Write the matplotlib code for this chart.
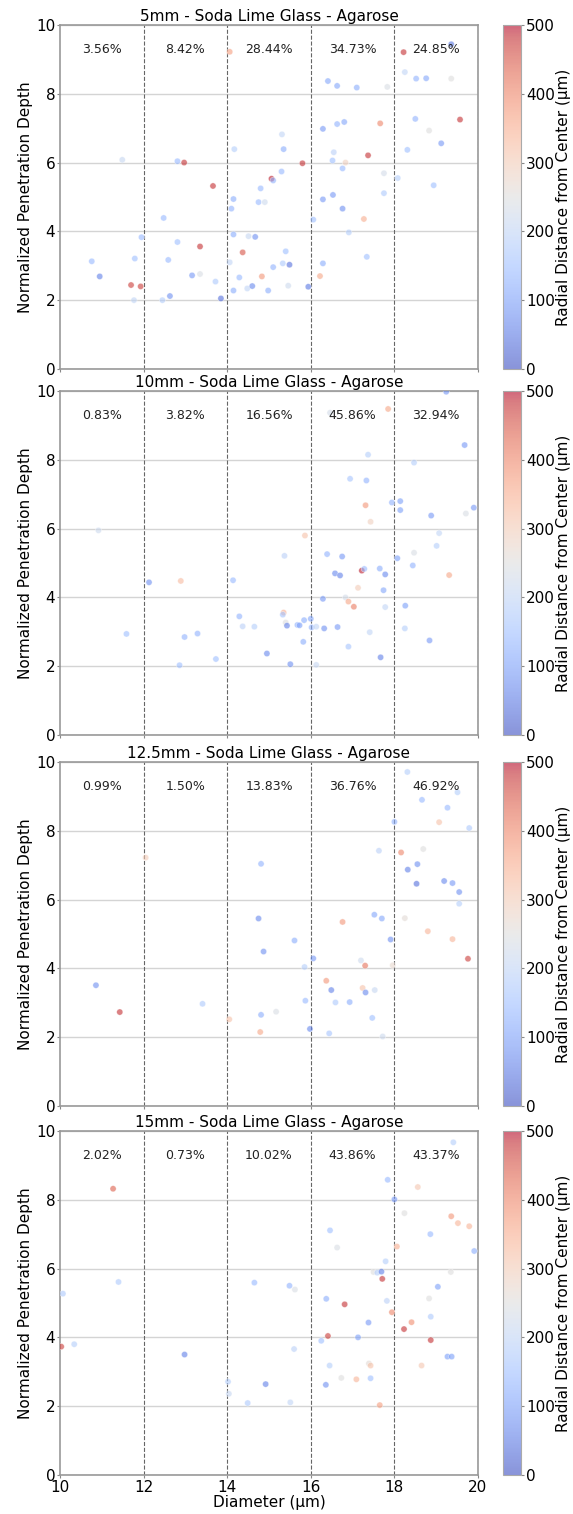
import numpy as np
import matplotlib
matplotlib.use("Agg")
import matplotlib.pyplot as plt

# panel titles and per-bin percentages
titles = ["5mm - Soda Lime Glass - Agarose", "10mm - Soda Lime Glass - Agarose",
          "12.5mm - Soda Lime Glass - Agarose", "15mm - Soda Lime Glass - Agarose"]
bin_edges = [12, 14, 16, 18, 20]
bin_centers = [11, 13, 15, 17, 19]
pct_5 = [3.56, 8.42, 28.44, 34.73, 24.85]
pct_10 = [0.83, 3.82, 16.56, 45.86, 32.94]
pct_125 = [0.99, 1.50, 13.83, 36.76, 46.92]
pct_15 = [2.02, 0.73, 10.02, 43.86, 43.37]

# diameter, normalized depth, radial distance (um)
d_5 = [10.76, 10.95, 11.49, 11.70, 11.79, 11.77, 11.93, 11.95, 12.48, 12.45, 12.59, 12.63,
       12.81, 12.81, 12.97, 13.16, 13.35, 13.35, 13.66, 13.72, 13.85, 14.06, 14.06, 14.10,
       14.15, 14.17, 14.15, 14.15, 14.29, 14.37, 14.48, 14.51, 14.60, 14.67, 14.75, 14.80,
       14.83, 14.90, 14.98, 15.06, 15.10, 15.10, 15.31, 15.30, 15.35, 15.40, 15.33, 15.49,
       15.46, 15.80, 15.94, 16.06, 16.22, 16.29, 16.29, 16.29, 16.41, 16.53, 16.52, 16.55,
       16.63, 16.63, 16.76, 16.76, 16.80, 16.83, 16.91, 17.10, 17.27, 17.34, 17.37, 17.66,
       17.75, 17.75, 17.83, 18.08, 18.22, 18.25, 18.31, 18.50, 18.52, 18.76, 18.83, 18.94,
       19.12, 19.36, 19.36, 19.57]
p_5 = [3.13, 2.69, 6.08, 2.44, 3.21, 2.00, 2.40, 3.83, 4.39, 2.00, 3.17, 2.12,
       6.04, 3.69, 6.00, 2.72, 2.76, 3.56, 5.32, 2.54, 2.05, 9.22, 3.10, 4.66,
       4.94, 6.39, 3.91, 2.28, 2.66, 3.39, 2.34, 3.86, 2.41, 3.84, 4.85, 5.25,
       2.69, 4.85, 2.28, 5.53, 5.48, 2.96, 6.82, 5.74, 6.39, 3.42, 3.07, 3.03,
       2.42, 5.98, 2.39, 4.34, 2.70, 4.93, 6.98, 3.07, 8.37, 5.06, 6.06, 6.30,
       7.12, 8.23, 4.66, 5.83, 7.18, 6.00, 3.97, 8.18, 4.36, 3.26, 6.21, 7.14,
       5.11, 5.69, 8.20, 5.55, 9.21, 8.63, 6.37, 7.27, 8.44, 8.45, 6.93, 5.34,
       6.56, 8.44, 9.44, 7.25]
r_5 = [140, 60, 210, 470, 150, 200, 470, 140, 140, 180, 140, 80,
       140, 150, 480, 90, 240, 480, 480, 170, 40, 370, 200, 130,
       120, 180, 120, 120, 140, 450, 200, 210, 70, 80, 140, 140,
       380, 220, 120, 490, 130, 130, 200, 140, 120, 150, 170, 40,
       220, 480, 50, 150, 360, 90, 90, 120, 110, 90, 150, 190,
       130, 110, 80, 140, 110, 290, 180, 120, 350, 150, 480, 400,
       170, 230, 240, 180, 480, 200, 150, 130, 130, 110, 250, 150,
       90, 250, 50, 480]

d_10 = [10.92, 11.59, 12.13, 12.89, 12.86, 12.98, 13.29, 13.73, 14.14, 14.29, 14.37, 14.65,
        14.95, 15.37, 15.35, 15.33, 15.40, 15.43, 15.51, 15.68, 15.82, 15.73, 15.84, 15.86,
        16.00, 16.02, 16.13, 16.13, 16.29, 16.32, 16.39, 16.58, 16.70, 16.75, 16.64, 16.83,
        16.90, 16.90, 16.94, 17.03, 17.13, 17.22, 17.28, 17.31, 17.33, 17.37, 17.41, 17.43,
        17.65, 17.67, 17.74, 17.78, 17.78, 17.85, 17.94, 18.07, 18.14, 18.14, 18.26, 18.25,
        18.44, 18.47, 18.47, 18.84, 18.88, 19.01, 19.07, 19.24, 19.31, 19.68, 19.71, 19.90,
        16.46]
p_10 = [5.95, 2.94, 4.44, 4.48, 2.03, 2.85, 2.95, 2.21, 4.50, 3.45, 3.16, 3.15,
        2.37, 5.21, 3.56, 3.50, 3.27, 3.18, 2.06, 3.20, 2.71, 3.19, 3.34, 5.80,
        3.38, 3.13, 3.15, 2.04, 3.96, 3.10, 5.26, 4.70, 4.64, 5.19, 3.14, 4.00,
        3.88, 2.57, 7.45, 3.73, 4.28, 4.78, 4.83, 6.68, 7.40, 8.15, 2.99, 6.20,
        4.84, 2.26, 4.21, 4.67, 3.72, 9.48, 6.76, 5.14, 6.80, 6.54, 3.76, 3.10,
        4.93, 7.92, 5.30, 2.75, 6.38, 5.50, 5.87, 9.98, 4.65, 8.43, 6.44, 6.61,
        9.37]
r_10 = [220, 150, 80, 330, 150, 130, 130, 150, 140, 130, 190, 180,
        70, 190, 350, 160, 250, 60, 80, 130, 120, 100, 120, 320,
        110, 130, 200, 210, 90, 80, 130, 70, 60, 90, 90, 230,
        360, 160, 160, 410, 300, 490, 140, 380, 130, 180, 200, 290,
        120, 60, 110, 70, 200, 360, 130, 100, 100, 100, 100, 180,
        130, 180, 240, 90, 90, 180, 200, 90, 360, 90, 240, 90,
        230]

d_125 = [10.86, 11.43, 12.05, 13.41, 14.05, 14.81, 14.75, 14.87, 14.81, 14.79, 15.17, 15.61,
         15.85, 15.87, 15.98, 16.06, 16.37, 16.44, 16.49, 16.59, 16.76, 16.93, 17.20, 17.24,
         17.30, 17.31, 17.47, 17.52, 17.53, 17.63, 17.70, 17.72, 17.91, 17.96, 18.00, 18.16,
         18.25, 18.31, 18.32, 18.53, 18.55, 18.66, 18.69, 18.80, 19.07, 19.19, 19.27, 19.39,
         19.39, 19.51, 19.55, 19.55, 19.76, 19.79]
p_125 = [3.51, 2.73, 7.22, 2.97, 2.52, 7.04, 5.45, 4.49, 2.65, 2.15, 2.74, 4.81,
         4.04, 3.06, 2.24, 4.29, 3.64, 2.11, 3.37, 3.01, 5.35, 3.02, 4.23, 3.43,
         4.08, 3.30, 2.56, 5.56, 3.37, 7.42, 5.45, 2.02, 4.84, 4.09, 8.26, 7.37,
         5.46, 9.71, 6.87, 6.46, 7.03, 8.90, 7.47, 5.08, 8.25, 6.54, 8.67, 6.48,
         4.85, 9.12, 6.22, 5.88, 4.28, 8.08]
r_125 = [80, 480, 300, 170, 320, 130, 70, 80, 120, 360, 240, 120,
         180, 140, 70, 90, 380, 160, 60, 170, 380, 120, 220, 320,
         420, 70, 150, 110, 210, 190, 110, 220, 80, 270, 130, 400,
         260, 180, 60, 40, 80, 140, 250, 340, 320, 70, 140, 90,
         340, 180, 80, 180, 470, 170]

d_15 = [10.03, 10.07, 10.34, 11.27, 11.40, 12.98, 14.02, 14.04, 14.49, 14.65, 14.92, 15.49,
        15.62, 15.60, 15.51, 16.25, 16.37, 16.41, 16.36, 16.46, 16.45, 16.63, 16.73, 16.81,
        17.09, 17.13, 17.38, 17.39, 17.43, 17.43, 17.50, 17.59, 17.69, 17.71, 17.65, 17.79,
        17.82, 17.84, 17.94, 18.00, 18.06, 18.23, 18.24, 18.41, 18.56, 18.65, 18.83, 18.86,
        18.87, 18.87, 19.04, 19.27, 19.37, 19.35, 19.36, 19.41, 19.52, 19.79, 19.91]
p_15 = [3.73, 5.27, 3.80, 8.32, 5.61, 3.50, 2.71, 2.36, 2.09, 5.59, 2.64, 5.50,
        5.39, 3.66, 2.11, 3.90, 5.12, 4.04, 2.62, 7.11, 3.18, 6.61, 2.82, 4.96,
        2.78, 4.00, 4.43, 3.24, 3.18, 2.81, 5.90, 5.88, 5.91, 5.70, 2.03, 6.21,
        5.06, 8.58, 4.73, 8.01, 6.64, 4.24, 7.61, 4.44, 8.37, 3.18, 5.13, 7.00,
        4.60, 3.92, 5.47, 3.44, 3.44, 5.90, 7.52, 9.67, 7.32, 7.23, 6.51]
r_15 = [470, 170, 180, 440, 170, 60, 180, 210, 170, 140, 60, 130,
        240, 190, 200, 150, 120, 470, 80, 150, 180, 240, 250, 480,
        340, 100, 90, 260, 320, 150, 250, 180, 60, 480, 370, 180,
        190, 140, 400, 90, 350, 480, 250, 390, 310, 310, 250, 140,
        170, 480, 100, 100, 100, 250, 380, 180, 340, 340, 120]

panels = [(d_5, p_5, r_5, pct_5), (d_10, p_10, r_10, pct_10),
          (d_125, p_125, r_125, pct_125), (d_15, p_15, r_15, pct_15)]

fig = plt.figure(figsize=(5.73, 15.14), dpi=100)
bottoms = [0.7563, 0.5145, 0.2695, 0.0258]
ax_h = 0.2272

axes = []
for i, (d, p, r, pct) in enumerate(panels):
    ax = fig.add_axes([0.1047, bottoms[i], 0.7295, ax_h],
                      sharex=axes[0] if axes else None)
    axes.append(ax)
    ax.grid(axis="y", color="#d4d4d4", linewidth=1)
    ax.set_axisbelow(True)
    for xe in bin_edges:
        ax.axvline(xe, color="#666666", linestyle="--", linewidth=0.8)
    sc = ax.scatter(d, p, c=r, cmap="coolwarm", vmin=0, vmax=500, alpha=0.6,
                    s=20, edgecolors="white", linewidths=0.4, zorder=3)
    for xc, v in zip(bin_centers, pct):
        ax.text(xc, 9.3, f"{v:.2f}%", ha="center", va="center", fontsize=9, color="#222222")
    ax.set_xlim(10, 20)
    ax.set_ylim(0, 10)
    ax.set_yticks([0, 2, 4, 6, 8, 10])
    ax.set_title(titles[i], fontsize=11, pad=3)
    ax.set_ylabel("Normalized Penetration Depth", fontsize=11, labelpad=2)
    ax.tick_params(labelsize=11, color="#888888", length=2.5, pad=1)
    for s in ax.spines.values():
        s.set_color("#999999")
        s.set_linewidth(1.2)
    if i < 3:
        ax.tick_params(labelbottom=False)

    cax = fig.add_axes([0.8778, bottoms[i], 0.0314, ax_h])
    cb = fig.colorbar(sc, cax=cax)
    cb.set_ticks([0, 100, 200, 300, 400, 500])
    cb.ax.tick_params(labelsize=11, color="#888888", length=2.5, pad=1)
    cb.outline.set_edgecolor("#aaaaaa")
    cb.set_label("Radial Distance from Center (µm)", fontsize=11, labelpad=1)

axes[-1].set_xticks([10, 12, 14, 16, 18, 20])
axes[-1].set_xlabel("Diameter (µm)", fontsize=11, labelpad=0)

fig.savefig("out.png", dpi=100)
